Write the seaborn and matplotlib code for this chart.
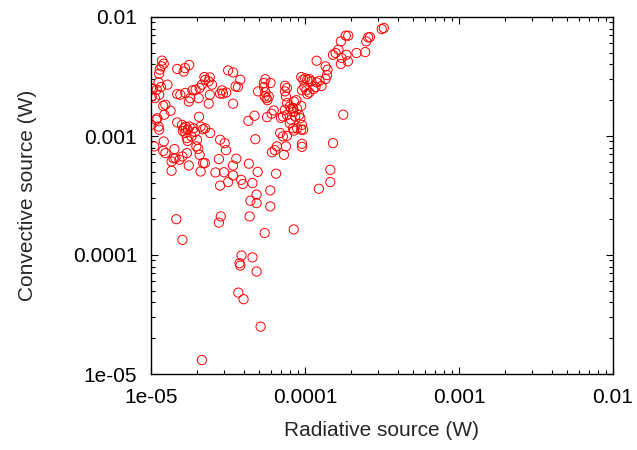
import matplotlib
matplotlib.use("Agg")
import matplotlib.pyplot as plt
import matplotlib.ticker as mticker
import seaborn as sns
import pandas as pd

radiative = [
    1.18e-5, 1.21e-5, 1.17e-5, 1.14e-5, 1.13e-5, 1.12e-5, 1.09e-5, 1.03e-5, 1.00e-5, 1.01e-5,
    1.06e-5, 1.13e-5, 1.16e-5, 1.28e-5, 1.48e-5, 1.63e-5, 1.66e-5, 1.77e-5, 1.48e-5, 1.55e-5,
    1.67e-5, 1.80e-5, 1.76e-5, 1.86e-5, 1.95e-5, 2.07e-5, 2.14e-5, 2.22e-5, 2.25e-5, 2.41e-5,
    2.37e-5, 2.49e-5, 2.41e-5, 2.37e-5, 2.04e-5,
    1.24e-5, 1.20e-5, 1.34e-5, 1.22e-5, 1.10e-5, 1.08e-5, 1.12e-5, 1.00e-5, 1.13e-5, 1.05e-5,
    1.21e-5, 1.20e-5, 1.24e-5, 1.42e-5, 1.40e-5, 1.48e-5, 1.59e-5, 1.64e-5, 1.68e-5, 1.73e-5,
    1.61e-5, 1.67e-5, 1.78e-5, 1.89e-5, 1.93e-5, 1.83e-5, 1.99e-5, 2.05e-5, 2.10e-5, 2.18e-5,
    2.25e-5, 2.42e-5, 1.97e-5, 2.03e-5, 2.07e-5, 2.18e-5, 2.24e-5, 2.10e-5, 1.71e-5, 1.73e-5,
    1.71e-5, 1.60e-5, 1.53e-5, 1.44e-5, 1.36e-5, 1.36e-5, 1.76e-5, 1.46e-5, 1.60e-5,
    2.81e-5, 3.01e-5, 3.07e-5, 2.76e-5, 2.81e-5, 2.62e-5, 2.98e-5, 3.17e-5, 3.41e-5, 3.41e-5,
    3.58e-5, 3.85e-5, 3.95e-5, 4.32e-5, 4.56e-5, 4.93e-5, 4.76e-5, 4.42e-5, 4.85e-5, 4.85e-5,
    4.37e-5, 2.76e-5, 2.84e-5, 5.47e-5, 5.95e-5, 5.95e-5, 6.49e-5, 8.45e-5, 3.87e-5, 3.76e-5,
    3.80e-5, 4.56e-5, 4.85e-5, 3.69e-5, 3.99e-5, 5.15e-5, 2.14e-5,
    2.89e-5, 2.93e-5, 3.08e-5, 2.81e-5, 3.17e-5, 3.41e-5, 3.67e-5, 3.54e-5, 3.80e-5, 3.41e-5,
    4.29e-5, 4.70e-5, 4.96e-5, 5.41e-5, 5.53e-5, 5.47e-5, 5.63e-5, 5.82e-5, 5.70e-5, 5.67e-5,
    6.07e-5, 6.26e-5, 5.53e-5, 5.97e-5, 5.41e-5,
    7.41e-5, 7.63e-5, 7.41e-5, 7.52e-5, 7.65e-5, 7.97e-5, 7.41e-5, 8.12e-5, 8.37e-5, 7.19e-5,
    6.98e-5, 7.63e-5, 8.12e-5, 8.63e-5, 9.16e-5, 9.33e-5, 7.97e-5, 8.37e-5, 8.47e-5, 8.89e-5,
    9.45e-5, 9.74e-5, 9.56e-5, 6.90e-5, 7.19e-5, 7.63e-5, 7.52e-5, 6.57e-5, 6.37e-5, 6.10e-5,
    7.30e-5, 9.56e-5, 9.56e-5, 9.45e-5, 8.79e-5, 8.47e-5, 8.89e-5, 8.37e-5,
    9.45e-5, 9.74e-5, 1.004e-4, 1.035e-4, 1.067e-4, 1.10e-4, 9.90e-5, 1.02e-4, 1.035e-4, 1.067e-4,
    9.56e-5, 1.134e-4, 1.17e-4, 1.19e-4, 1.24e-4, 1.28e-4, 1.36e-4, 1.39e-4, 1.40e-4, 1.19e-4,
    1.36e-4, 1.52e-4, 1.58e-4, 1.65e-4, 1.71e-4, 1.84e-4, 1.91e-4, 1.73e-4, 1.71e-4, 1.90e-4,
    1.86e-4, 2.16e-4, 2.46e-4, 2.50e-4, 2.57e-4, 2.64e-4, 3.15e-4, 3.25e-4,
    1.23e-4, 1.46e-4, 1.46e-4, 1.52e-4, 1.77e-4,
]

convective = [
    4.30e-3, 4.05e-3, 3.85e-3, 3.61e-3, 3.34e-3, 2.82e-3, 2.45e-3, 2.48e-3, 2.53e-3, 2.15e-3,
    2.08e-3, 2.22e-3, 2.58e-3, 2.70e-3, 3.66e-3, 3.48e-3, 3.72e-3, 3.95e-3, 2.25e-3, 2.22e-3,
    2.30e-3, 2.08e-3, 1.95e-3, 2.42e-3, 2.45e-3, 2.53e-3, 2.70e-3, 3.13e-3, 2.97e-3, 3.11e-3,
    2.88e-3, 2.70e-3, 2.22e-3, 1.87e-3, 2.08e-3,
    1.83e-3, 1.79e-3, 1.63e-3, 1.51e-3, 1.41e-3, 1.37e-3, 1.20e-3, 1.24e-3, 1.13e-3, 8.18e-4,
    9.00e-4, 7.50e-4, 7.18e-4, 7.76e-4, 6.50e-4, 1.30e-3, 1.24e-3, 1.16e-3, 1.20e-3, 1.13e-3,
    1.10e-3, 1.06e-3, 1.20e-3, 1.16e-3, 1.08e-3, 9.90e-4, 9.30e-4, 1.45e-3, 1.20e-3, 1.14e-3,
    1.16e-3, 1.06e-3, 8.18e-4, 7.80e-4, 6.95e-4, 5.92e-4, 5.92e-4, 5.03e-4, 9.60e-4, 9.10e-4,
    7.18e-4, 6.73e-4, 6.31e-4, 6.52e-4, 6.10e-4, 5.10e-4, 5.65e-4, 2.00e-4, 1.34e-4,
    9.30e-4, 8.70e-4, 7.60e-4, 6.40e-4, 3.83e-4, 4.94e-4, 4.96e-4, 4.10e-4, 4.66e-4, 5.65e-4,
    6.45e-4, 4.28e-4, 3.95e-4, 5.85e-4, 4.02e-4, 5.00e-4, 9.40e-4, 2.86e-4, 2.73e-4, 3.22e-4,
    2.11e-4, 1.87e-4, 2.11e-4, 1.53e-4, 3.49e-4, 2.56e-4, 4.82e-4, 1.64e-4, 9.90e-5, 8.53e-5,
    8.15e-5, 9.55e-5, 7.26e-5, 4.83e-5, 4.25e-5, 2.50e-5, 1.31e-5,
    2.42e-3, 2.27e-3, 2.32e-3, 2.27e-3, 3.56e-3, 3.42e-3, 2.58e-3, 2.61e-3, 2.97e-3, 1.87e-3,
    1.34e-3, 1.48e-3, 2.37e-3, 2.58e-3, 2.33e-3, 2.15e-3, 2.08e-3, 2.15e-3, 2.00e-3, 1.44e-3,
    1.54e-3, 1.64e-3, 3.00e-3, 2.79e-3, 2.79e-3,
    2.64e-3, 2.53e-3, 2.37e-3, 2.15e-3, 1.89e-3, 1.77e-3, 1.66e-3, 1.69e-3, 1.59e-3, 1.46e-3,
    1.42e-3, 1.50e-3, 1.37e-3, 1.46e-3, 1.50e-3, 1.41e-3, 1.28e-3, 1.16e-3, 1.11e-3, 1.16e-3,
    1.13e-3, 1.13e-3, 1.24e-3, 1.06e-3, 9.92e-4, 1.00e-3, 8.18e-4, 8.18e-4, 7.60e-4, 7.30e-4,
    6.95e-4, 8.60e-4, 8.10e-4, 1.79e-3, 2.00e-3, 1.95e-3, 1.69e-3, 1.72e-3,
    3.13e-3, 2.97e-3, 3.05e-3, 2.97e-3, 3.01e-3, 2.88e-3, 2.58e-3, 2.42e-3, 2.25e-3, 2.32e-3,
    2.42e-3, 2.48e-3, 2.58e-3, 2.82e-3, 2.91e-3, 2.63e-3, 3.01e-3, 3.25e-3, 3.61e-3, 4.29e-3,
    3.85e-3, 4.81e-3, 4.98e-3, 5.31e-3, 6.24e-3, 6.97e-3, 6.97e-3, 4.52e-3, 4.03e-3, 4.24e-3,
    4.81e-3, 4.98e-3, 5.07e-3, 6.24e-3, 6.74e-3, 6.78e-3, 7.92e-3, 8.08e-3,
    3.60e-4, 4.10e-4, 5.20e-4, 8.72e-4, 1.51e-3,
]

x_ticks = [1e-5, 1e-4, 1e-3, 1e-2]
x_tick_labels = ["1e-05", "0.0001", "0.001", "0.01"]
y_ticks = [1e-5, 1e-4, 1e-3, 1e-2]
y_tick_labels = ["1e-05", "0.0001", "0.001", "0.01"]

df = pd.DataFrame({"Radiative": radiative, "Convective": convective})

sns.set_style("ticks")
plt.rcParams["font.family"] = ["Liberation Sans", "DejaVu Sans"]

fig = plt.figure(figsize=(6.37, 4.5), dpi=100)
ax = fig.add_axes([151 / 637, 76 / 450, 462 / 637, 357 / 450])

sns.scatterplot(data=df, x="Radiative", y="Convective", ax=ax,
                marker="o", s=44, facecolors="none", edgecolor="#ff0000",
                linewidth=0.7, legend=False)

ax.set_xscale("log")
ax.set_yscale("log")
ax.set_xlim(1e-5, 1e-2)
ax.set_ylim(1e-5, 1e-2)
ax.set_xticks(x_ticks)
ax.set_xticklabels(x_tick_labels)
ax.set_yticks(y_ticks)
ax.set_yticklabels(y_tick_labels)
ax.xaxis.set_minor_locator(mticker.LogLocator(base=10, subs=range(2, 10), numticks=20))
ax.yaxis.set_minor_locator(mticker.LogLocator(base=10, subs=range(2, 10), numticks=20))
ax.xaxis.set_minor_formatter(mticker.NullFormatter())
ax.yaxis.set_minor_formatter(mticker.NullFormatter())

ax.tick_params(which="both", direction="in", top=True, right=True, colors="black",
               labelsize=15)
ax.tick_params(which="major", length=5, width=0.8)
ax.tick_params(which="minor", length=3, width=0.8)
ax.tick_params(axis="x", which="major", pad=10)
ax.tick_params(axis="y", which="major", pad=10)

for sp in ax.spines.values():
    sp.set_linewidth(1.0)
    sp.set_color("black")

ax.set_xlabel("Radiative source (W)", fontsize=15, labelpad=10)
ax.set_ylabel("Convective source (W)", fontsize=15, labelpad=26)

fig.savefig("out.png", dpi=100, facecolor="white")
